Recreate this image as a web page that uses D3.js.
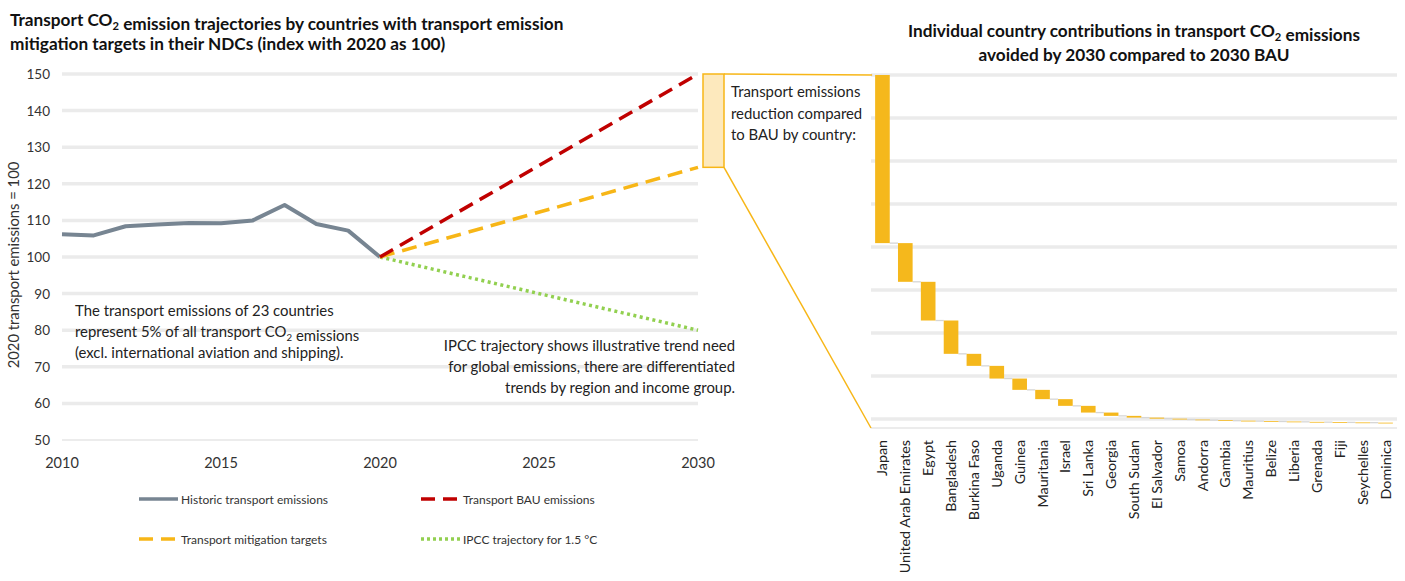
<!DOCTYPE html>
<html><head><meta charset="utf-8">
<script src="https://cdn.jsdelivr.net/npm/d3@7"></script>
<style>
body{margin:0;background:#fff;}
svg text{font-family:Lato,"Open Sans",sans-serif;fill:#222;}
</style></head>
<body><svg id="c" width="1405" height="581"></svg>
<script>
// ---------- data ----------
const histYears = [2010,2011,2012,2013,2014,2015,2016,2017,2018,2019,2020];
const histValues = [106.2,105.9,108.4,108.9,109.3,109.2,110.0,114.2,109.0,107.2,100];
const bauYears = [2020,2030];
const bauValues = [100,150];
const mitYears = [2020,2030];
const mitValues = [100,124.5];
const ipccYears = [2020,2030];
const ipccValues = [100,80];
const yTicks = [50,60,70,80,90,100,110,120,130,140,150];
const xTicks = [2010,2015,2020,2025,2030];

const countries = ["Japan","United Arab Emirates","Egypt","Bangladesh","Burkina Faso","Uganda","Guinea","Mauritania","Israel","Sri Lanka","Georgia","South Sudan","El Salvador","Samoa","Andorra","Gambia","Mauritius","Belize","Liberia","Grenada","Fiji","Seychelles","Dominica"];
const reductions = [39.1,9.0,9.0,7.75,2.8,2.95,2.63,2.16,1.56,1.56,0.77,0.4,0.25,0.2,0.15,0.12,0.1,0.09,0.08,0.07,0.06,0.06,0.05];
const waterfallStart = 80;
const rightGrid = [0,10,20,30,40,50,60,70,80];

// ---------- setup ----------
const svg = d3.select("#c");
const C = {grid:"#ebebeb", axis:"#d9d9d9", hist:"#778592", bau:"#c00000", mit:"#f7b617", ipcc:"#92d050", bar:"#f5b81c"};

// ---------- left chart ----------
const x = d3.scaleLinear().domain([2010,2030]).range([62,698]);
const y = d3.scaleLinear().domain([50,150]).range([440,74]);

svg.append("g").selectAll("line").data(yTicks.filter(d=>d>50)).join("line")
  .attr("x1",x(2010)).attr("x2",x(2030)).attr("y1",d=>y(d)).attr("y2",d=>y(d))
  .attr("stroke",C.grid).attr("stroke-width",3.5);
svg.append("line").attr("x1",x(2010)).attr("x2",x(2030)).attr("y1",y(50)).attr("y2",y(50))
  .attr("stroke",C.axis).attr("stroke-width",1.2);

svg.append("g").selectAll("text").data(yTicks).join("text")
  .attr("x",50).attr("y",d=>y(d)+5).attr("text-anchor","end")
  .style("font-size","13.5px").style("fill","#333").text(d=>d);
svg.append("g").selectAll("text").data(xTicks).join("text")
  .attr("x",d=>x(d)).attr("y",468).attr("text-anchor","middle")
  .style("font-size","14.5px").style("fill","#333").text(d=>d);

svg.append("text").attr("transform","translate(19,265) rotate(-90)")
  .attr("text-anchor","middle").style("font-size","14.8px").style("fill","#333")
  .text("2020 transport emissions = 100");

const line = d3.line().x(d=>x(d[0])).y(d=>y(d[1]));
const zip = (a,b)=>a.map((v,i)=>[v,b[i]]);
svg.append("path").attr("d",line(zip(histYears,histValues))).attr("fill","none")
  .attr("stroke",C.hist).attr("stroke-width",4).attr("stroke-linejoin","round");
svg.append("path").attr("d",line(zip(ipccYears,ipccValues))).attr("fill","none")
  .attr("stroke",C.ipcc).attr("stroke-width",3.5).attr("stroke-dasharray","3,3.5");
svg.append("path").attr("d",line(zip(mitYears,mitValues))).attr("fill","none")
  .attr("stroke",C.mit).attr("stroke-width",3.5).attr("stroke-dasharray","15,8");
svg.append("path").attr("d",line(zip(bauYears,bauValues))).attr("fill","none")
  .attr("stroke",C.bau).attr("stroke-width",3.5).attr("stroke-dasharray","15,8");

// titles
function co2Text(sel, parts){
  parts.forEach(p=>{
    if(p==="SUB"){ sel.append("tspan").attr("dy",4).style("font-size","0.65em").text("2");
                   sel.append("tspan").attr("dy",-4).text(""); }
    else sel.append("tspan").text(p);
  });
}
const t1 = svg.append("text").attr("x",10).attr("y",26).style("font-size","17.2px").style("font-weight","bold").style("fill","#111");
co2Text(t1,["Transport CO","SUB"," emission trajectories by countries with transport emission"]);
svg.append("text").attr("x",10).attr("y",50).style("font-size","17.2px").style("font-weight","bold").style("fill","#111")
  .text("mitigation targets in their NDCs (index with 2020 as 100)");

// annotations
const a1 = ["The transport emissions of 23 countries", null, "(excl. international aviation and shipping)."];
svg.append("text").attr("x",75).attr("y",316).style("font-size","14.9px").text(a1[0]);
const a2 = svg.append("text").attr("x",75).attr("y",337).style("font-size","14.9px");
co2Text(a2,["represent 5% of all transport CO","SUB"," emissions"]);
svg.append("text").attr("x",75).attr("y",358).style("font-size","14.9px").text(a1[2]);
["IPCC trajectory shows illustrative trend need","for global emissions, there are differentiated","trends by region and income group."]
  .forEach((s,i)=>svg.append("text").attr("x",735).attr("y",351+i*21).attr("text-anchor","end").style("font-size","14.9px").text(s));

// legend
const legend = [
  {label:"Historic transport emissions", color:C.hist, dash:null, x:139, y:499},
  {label:"Transport BAU emissions", color:C.bau, dash:"14,8", x:421, y:499},
  {label:"Transport mitigation targets", color:C.mit, dash:"14,8", x:139, y:539},
  {label:"IPCC trajectory for 1.5 °C", color:C.ipcc, dash:"3,3", x:421, y:539}
];
const lg = svg.append("g").selectAll("g").data(legend).join("g");
lg.append("line").attr("x1",d=>d.x).attr("x2",d=>d.x+39).attr("y1",d=>d.y).attr("y2",d=>d.y)
  .attr("stroke",d=>d.color).attr("stroke-width",3.5).attr("stroke-dasharray",d=>d.dash);
lg.append("text").attr("x",d=>d.x+42).attr("y",d=>d.y+4.5).style("font-size","12px").style("fill","#333").text(d=>d.label);

// ---------- right chart ----------
const xb = d3.scaleBand().domain(countries).range([871,1397]).paddingInner(0.36).paddingOuter(0.18);
const yb = d3.scaleLinear().domain([-2.1,80]).range([428,75]);

svg.append("g").selectAll("line").data(rightGrid).join("line")
  .attr("x1",871).attr("x2",1397).attr("y1",d=>yb(d)).attr("y2",d=>yb(d))
  .attr("stroke",C.grid).attr("stroke-width",3.5);
svg.append("line").attr("x1",871).attr("x2",1397).attr("y1",yb(-2.1)).attr("y2",yb(-2.1))
  .attr("stroke",C.axis).attr("stroke-width",1.2);

let cum = waterfallStart;
const wf = countries.map((c,i)=>{const top=cum; cum-=reductions[i]; return {c, top, bottom:cum};});

// connectors
svg.append("g").selectAll("line").data(wf.slice(0,-1)).join("line")
  .attr("x1",d=>xb(d.c)+xb.bandwidth()).attr("x2",(d,i)=>xb(wf[i+1].c))
  .attr("y1",d=>yb(d.bottom)).attr("y2",d=>yb(d.bottom))
  .attr("stroke","#d6d6d6").attr("stroke-width",1.3);
svg.append("g").selectAll("rect").data(wf).join("rect")
  .attr("x",d=>xb(d.c)).attr("width",xb.bandwidth())
  .attr("y",d=>yb(d.top)).attr("height",d=>Math.max(0.8,yb(d.bottom)-yb(d.top)))
  .attr("fill",C.bar);

svg.append("g").selectAll("text").data(countries).join("text")
  .attr("transform",d=>`translate(${xb(d)+xb.bandwidth()/2+5},440) rotate(-90)`)
  .attr("text-anchor","end").style("font-size","14.3px").style("fill","#222").text(d=>d);

const t2 = svg.append("text").attr("x",1134).attr("y",37).attr("text-anchor","middle").style("font-size","17.2px").style("font-weight","bold").style("fill","#111");
co2Text(t2,["Individual country contributions in transport CO","SUB"," emissions"]);
svg.append("text").attr("x",1134).attr("y",61).attr("text-anchor","middle").style("font-size","17.2px").style("font-weight","bold").style("fill","#111")
  .text("avoided by 2030 compared to 2030 BAU");

// zoom box linking the two charts
const bx0 = x(2030)+5, bx1 = x(2030)+26;
svg.append("rect").attr("x",bx0).attr("y",y(bauValues[1])).attr("width",bx1-bx0).attr("height",y(mitValues[1])-y(bauValues[1]))
  .attr("fill","#fde9bd").attr("stroke",C.mit).attr("stroke-width",1.5);
svg.append("line").attr("x1",bx1).attr("y1",y(bauValues[1])).attr("x2",xb(countries[0])-3).attr("y2",yb(waterfallStart))
  .attr("stroke",C.mit).attr("stroke-width",1.5);
svg.append("line").attr("x1",bx1).attr("y1",y(mitValues[1])).attr("x2",871).attr("y2",yb(-2.1))
  .attr("stroke",C.mit).attr("stroke-width",1.5);
["Transport emissions","reduction compared","to BAU by country:"]
  .forEach((s,i)=>svg.append("text").attr("x",731).attr("y",97+i*21.5).style("font-size","14.9px").text(s));
</script></body></html>
